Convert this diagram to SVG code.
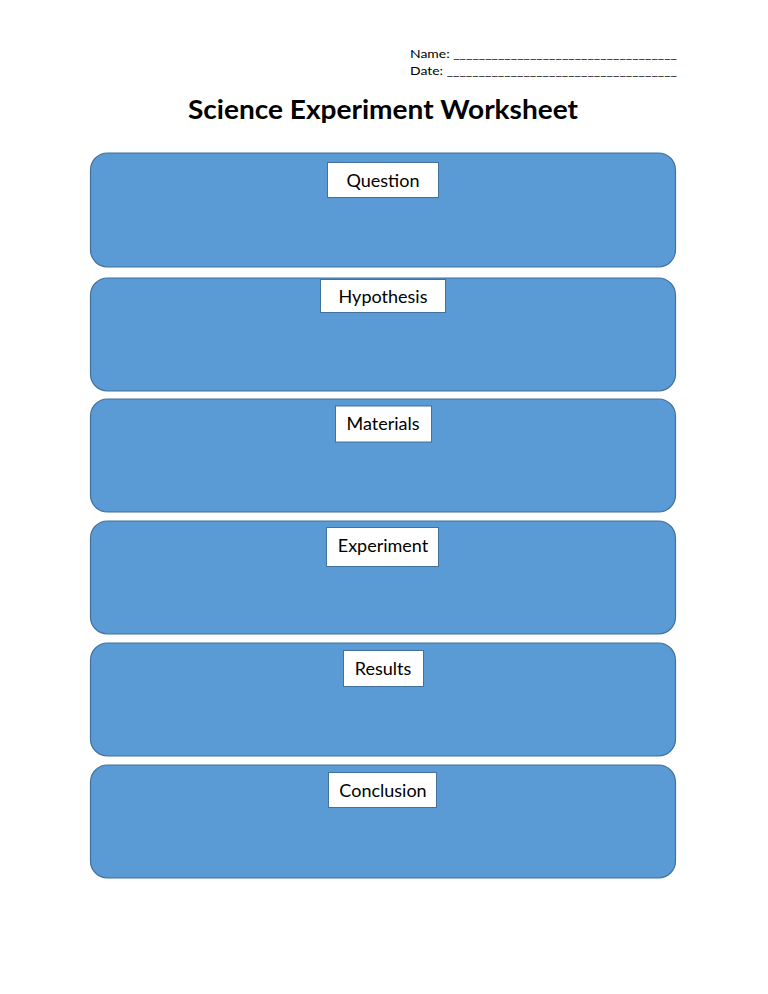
<svg xmlns="http://www.w3.org/2000/svg" width="768" height="994" viewBox="0 0 768 994">
<style>
.box{fill:#5b9bd5;stroke:#41719c;stroke-width:1.2}
.lbl{fill:#fff;stroke:#41719c;stroke-width:1}
.lt{font-family:Lato,"Open Sans","Liberation Sans",sans-serif;font-size:18px;fill:#000;text-anchor:middle}
.hd{font-family:Lato,"Open Sans","Liberation Sans",sans-serif;font-size:12px;fill:#000}
</style>
<rect width="768" height="994" fill="#fff"/>
<text class="hd" x="410" y="58" textLength="267" lengthAdjust="spacingAndGlyphs">Name: ___________________________________</text>
<text class="hd" x="410" y="75" textLength="267" lengthAdjust="spacingAndGlyphs">Date: ____________________________________</text>
<text x="383" y="119" font-family="Lato,'Open Sans','Liberation Sans',sans-serif" font-weight="bold" font-size="27" text-anchor="middle" textLength="390" lengthAdjust="spacingAndGlyphs">Science Experiment Worksheet</text>
<g id="question">
<rect class="box" x="90.5" y="153" width="585" height="114" rx="17"/>
<rect class="lbl" x="327.5" y="162.5" width="111" height="35"/>
<text class="lt" x="383" y="187">Question</text>
</g>
<g id="hypothesis">
<rect class="box" x="90.5" y="278" width="585" height="113" rx="17"/>
<rect class="lbl" x="320.5" y="279.5" width="125" height="33"/>
<text class="lt" x="383" y="303">Hypothesis</text>
</g>
<g id="materials">
<rect class="box" x="90.5" y="399" width="585" height="113" rx="17"/>
<rect class="lbl" x="335.5" y="406" width="96" height="36"/>
<text class="lt" x="383" y="430">Materials</text>
</g>
<g id="experiment">
<rect class="box" x="90.5" y="521" width="585" height="113" rx="17"/>
<rect class="lbl" x="326.5" y="527.5" width="112" height="39"/>
<text class="lt" x="383" y="552">Experiment</text>
</g>
<g id="results">
<rect class="box" x="90.5" y="643" width="585" height="113" rx="17"/>
<rect class="lbl" x="343.5" y="650.5" width="80" height="36"/>
<text class="lt" x="383" y="675">Results</text>
</g>
<g id="conclusion">
<rect class="box" x="90.5" y="765" width="585" height="113" rx="17"/>
<rect class="lbl" x="328.5" y="772.5" width="108" height="35"/>
<text class="lt" x="383" y="797">Conclusion</text>
</g>
<g id="connectors"></g>
</svg>
